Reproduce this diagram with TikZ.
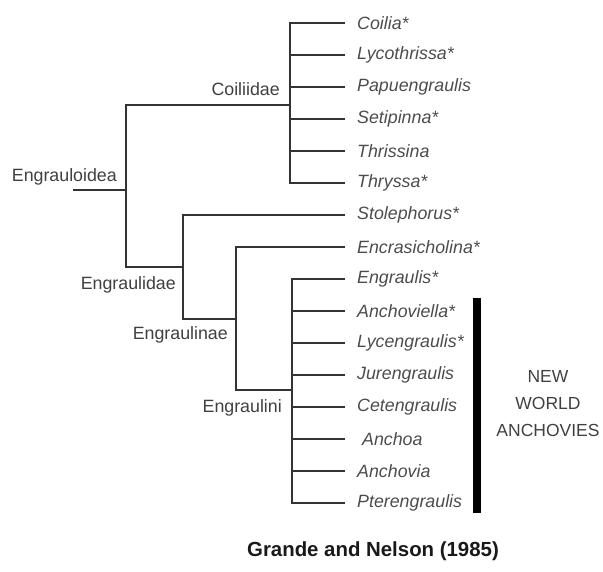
\documentclass[tikz,border=0pt]{standalone}
\usepackage{fontspec}
\setmainfont{Liberation Sans}
\usetikzlibrary{positioning}
\tikzset{
    treeLine/.style={
        draw=black!80,
        line width=2.2pt
    },
    leafNode/.style={
        anchor=west,
        inner xsep=12pt,
        inner ysep=0pt,
        text=black!70,
        font=\fontsize{17.8}{20}\selectfont\itshape
    },
    cladeLabel/.style={
        inner sep=0pt,
        text=black!75,
        font=\fontsize{17.8}{20}\selectfont
    }
}

\begin{document}
\begin{tikzpicture}[x=1pt, y=-1pt]
    \useasboundingbox (0,0) rectangle (603,571);

    % Coordinates
    \coordinate (Root) at (73,190);
    \coordinate (NodeEngrauloidea) at (126,190);
    \coordinate (NodeCoiliidae) at (290,105);
    \coordinate (NodeEngraulidae) at (183,267);
    \coordinate (NodeEngraulinae) at (236,319);
    \coordinate (NodeEngraulini) at (292,390);
    \coordinate (BarTop) at (477,298);
    \coordinate (BarBottom) at (477,513);

    % Leaves
    \node[leafNode] (Coilia) at (345,23) {Coilia*};
    \node[leafNode] (Lycothrissa) at (345,55) {Lycothrissa*};
    \node[leafNode] (Papuengraulis) at (345,87) {Papuengraulis};
    \node[leafNode] (Setipinna) at (345,119) {Setipinna*};
    \node[leafNode] (Thrissina) at (345,151) {Thrissina};
    \node[leafNode] (Thryssa) at (345,183) {Thryssa*};
    \node[leafNode] (Stolephorus) at (345,215) {Stolephorus*};
    \node[leafNode] (Encrasicholina) at (345,247) {Encrasicholina*};
    \node[leafNode] (Engraulis) at (345,279) {Engraulis*};
    \node[leafNode] (Anchoviella) at (345,311) {Anchoviella*};
    \node[leafNode] (Lycengraulis) at (345,343) {Lycengraulis*};
    \node[leafNode] (Jurengraulis) at (345,375) {Jurengraulis};
    \node[leafNode] (Cetengraulis) at (345,407) {Cetengraulis};
    \node[leafNode] (Anchoa) at (345,439) {\ Anchoa};
    \node[leafNode] (Anchovia) at (345,471) {Anchovia};
    \node[leafNode] (Pterengraulis) at (345,503) {Pterengraulis};

    % Clade labels
    \node[cladeLabel, above left=5pt and 9pt of NodeEngrauloidea] (LabelEngrauloidea) {Engrauloidea};
    \node[cladeLabel, above left=9pt and 10pt of NodeCoiliidae] (LabelCoiliidae) {Coiliidae};
    \node[cladeLabel, below left=9pt and 7pt of NodeEngraulidae] (LabelEngraulidae) {Engraulidae};
    \node[cladeLabel, below left=7pt and 8pt of NodeEngraulinae] (LabelEngraulinae) {Engraulinae};
    \node[cladeLabel, below left=9pt and 10pt of NodeEngraulini] (LabelEngraulini) {Engraulini};

    % Branches
    \draw[treeLine] (Root) -- (NodeEngrauloidea);
    \draw[treeLine] (NodeEngrauloidea) |- (NodeCoiliidae);
    \draw[treeLine] (NodeEngrauloidea) |- (NodeEngraulidae);
    \draw[treeLine] (NodeCoiliidae) |- (Coilia.west);
    \draw[treeLine] (NodeCoiliidae) |- (Lycothrissa.west);
    \draw[treeLine] (NodeCoiliidae) |- (Papuengraulis.west);
    \draw[treeLine] (NodeCoiliidae) |- (Setipinna.west);
    \draw[treeLine] (NodeCoiliidae) |- (Thrissina.west);
    \draw[treeLine] (NodeCoiliidae) |- (Thryssa.west);
    \draw[treeLine] (NodeEngraulidae) |- (Stolephorus.west);
    \draw[treeLine] (NodeEngraulidae) |- (NodeEngraulinae);
    \draw[treeLine] (NodeEngraulinae) |- (Encrasicholina.west);
    \draw[treeLine] (NodeEngraulinae) |- (NodeEngraulini);
    \draw[treeLine] (NodeEngraulini) |- (Engraulis.west);
    \draw[treeLine] (NodeEngraulini) |- (Anchoviella.west);
    \draw[treeLine] (NodeEngraulini) |- (Lycengraulis.west);
    \draw[treeLine] (NodeEngraulini) |- (Jurengraulis.west);
    \draw[treeLine] (NodeEngraulini) |- (Cetengraulis.west);
    \draw[treeLine] (NodeEngraulini) |- (Anchoa.west);
    \draw[treeLine] (NodeEngraulini) |- (Anchovia.west);
    \draw[treeLine] (NodeEngraulini) |- (Pterengraulis.west);

    % New World bar
    \draw[line width=8pt] (BarTop) -- (BarBottom);
    \node[cladeLabel, align=center, font=\fontsize{17.5}{27}\selectfont] (NewWorld) at (548,404) {NEW\\WORLD\\ANCHOVIES};

    % Caption
    \node[font=\fontsize{20.4}{24}\selectfont\bfseries, text=black!90] (Caption) at (373,551) {Grande and Nelson (1985)};
\end{tikzpicture}
\end{document}
